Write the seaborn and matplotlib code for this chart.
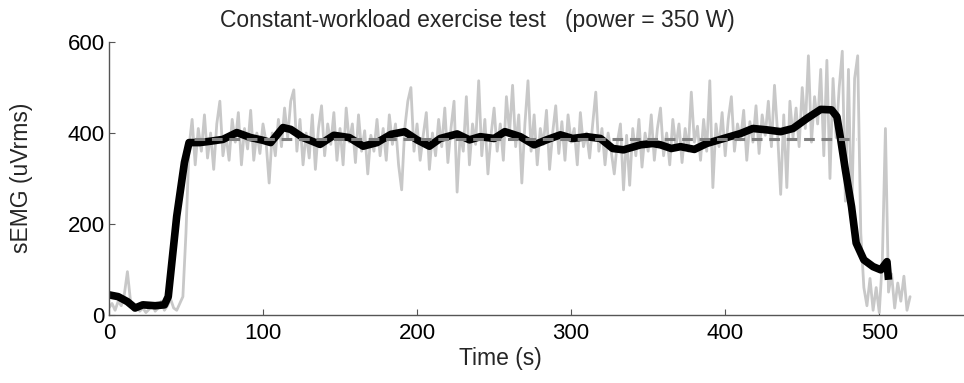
import numpy as np
import pandas as pd
import seaborn as sns
import matplotlib
matplotlib.use('Agg')
import matplotlib.pyplot as plt

# raw sEMG (uVrms), one value every 2 s from t = 0 to 520 s
raw_step = 2
raw_emg = [
    15, 25, 10, 30, 20, 45, 95, 30, 10, 20,
    8, 15, 5, 12, 25, 8, 15, 30, 10, 20,
    35, 15, 10, 25, 40, 180, 370, 430, 330, 410,
    360, 440, 345, 400, 320, 420, 470, 350, 395, 340,
    430, 380, 445, 330, 410, 365, 450, 340, 400, 355,
    420, 380, 290, 400, 350, 430, 370, 455, 390, 470,
    495, 360, 430, 330, 400, 345, 440, 320, 410, 460,
    350, 420, 375, 445, 340, 410, 330, 455, 380, 420,
    335, 440, 360, 405, 310, 395, 360, 430, 350, 410,
    340, 440, 375, 420, 330, 275, 410, 470, 500, 360,
    420, 340, 395, 445, 320, 400, 350, 430, 370, 455,
    335, 410, 470, 270, 400, 360, 480, 330, 420, 375,
    515, 350, 430, 310, 395, 455, 360, 420, 340, 480,
    400, 505, 370, 440, 290, 420, 515, 360, 440, 330,
    410, 375, 450, 320, 400, 460, 355, 425, 340, 440,
    380, 410, 330, 445, 370, 400, 345, 420, 490, 360,
    410, 330, 400, 360, 310, 380, 420, 275, 395, 285,
    410, 350, 430, 325, 400, 360, 440, 340, 410, 455,
    350, 400, 330, 430, 370, 420, 335, 410, 360, 490,
    380, 415, 340, 430, 360, 515, 280, 420, 370, 445,
    350, 430, 480, 360, 420, 385, 450, 340, 425, 380,
    460, 355, 440, 395, 470, 370, 505, 400, 265, 440,
    280, 470, 390, 455, 370, 500, 410, 570, 380, 480,
    420, 540, 350, 560, 300, 520, 390, 500, 580, 250,
    540, 200, 520, 570, 180, 60, 20, 80, 10, 60,
    5, 120, 410, 50, 90, 15, 70, 30, 85, 10,
    40,
]

# smoothed envelope
smooth_t = [0, 6, 12, 17, 22, 30, 36, 38.5, 44, 49, 52, 59, 66, 74, 83, 92,
            100, 105, 113, 118, 126, 137, 146, 156, 165, 174, 183, 192, 200,
            208, 215, 226, 234, 241, 250, 257, 267, 276, 284, 293, 301, 310,
            319, 327, 334, 345, 353, 358, 365, 371, 380, 388, 399, 410, 418,
            427, 436, 444, 453, 462, 469, 472.5, 475, 478, 482, 485, 490, 496,
            501, 505, 506]
smooth_emg = [44, 40, 29, 15, 22, 20, 22, 40, 217, 335, 379, 379, 382, 386,
              401, 390, 384, 379, 412, 408, 390, 375, 395, 390, 371, 379, 397,
              403, 385, 371, 388, 398, 385, 392, 388, 403, 392, 374, 385, 396,
              388, 392, 388, 366, 363, 374, 377, 374, 366, 370, 364, 377, 388,
              399, 410, 407, 403, 410, 432, 452, 451, 436, 385, 319, 238, 158,
              121, 106, 99, 117, 77]

# mean level during the steady part
mean_t = [55, 485]
mean_level = 387

raw_df = pd.DataFrame({'t': np.arange(len(raw_emg)) * raw_step, 'emg': raw_emg})
smooth_df = pd.DataFrame({'t': smooth_t, 'emg': smooth_emg})
mean_df = pd.DataFrame({'t': mean_t, 'emg': [mean_level] * len(mean_t)})

sns.set_style('ticks')
plt.rcParams['font.family'] = ['Liberation Sans', 'DejaVu Sans']

fig = plt.figure(figsize=(9.64, 3.83), dpi=100)
ax = fig.add_axes([0.113, 0.178, 0.887, 0.712])

sns.lineplot(data=raw_df, x='t', y='emg', ax=ax, color='#c8c8c8', lw=2.0,
             estimator=None, sort=False)
sns.lineplot(data=smooth_df, x='t', y='emg', ax=ax, color='black', lw=5.5,
             estimator=None, sort=False, solid_capstyle='butt')
sns.lineplot(data=mean_df, x='t', y='emg', ax=ax, color='#808080', lw=2.2,
             estimator=None, sort=False, dashes=False)
ax.lines[-1].set_linestyle((0, (3.5, 2.2)))

ax.set_xlim(0, 555)
ax.set_ylim(0, 600)
ax.set_xticks([0, 100, 200, 300, 400, 500])
ax.set_yticks([0, 200, 400, 600])
ax.tick_params(direction='in', length=4, width=0.8, color='#555555',
               labelsize=16, labelcolor='black')
ax.tick_params(axis='x', pad=6)
ax.tick_params(axis='y', pad=3)
for side in ['top', 'right']:
    ax.spines[side].set_visible(False)
for side in ['left', 'bottom']:
    ax.spines[side].set_color('#555555')
    ax.spines[side].set_linewidth(1.0)

ax.set_xlabel('')
ax.set_ylabel('')
fig.text(500 / 964, 1 - 358 / 383, 'Time (s)', ha='center', va='center', fontsize=16.5)
fig.text(22 / 964, 1 - 178 / 383, 'sEMG (uVrms)', ha='center', va='center',
         rotation=90, fontsize=16.5)
fig.text(477 / 964, 1 - 20 / 383, 'Constant-workload exercise test   (power = 350 W)',
         ha='center', va='center', fontsize=16.5)

fig.savefig('out.png', dpi=100)
